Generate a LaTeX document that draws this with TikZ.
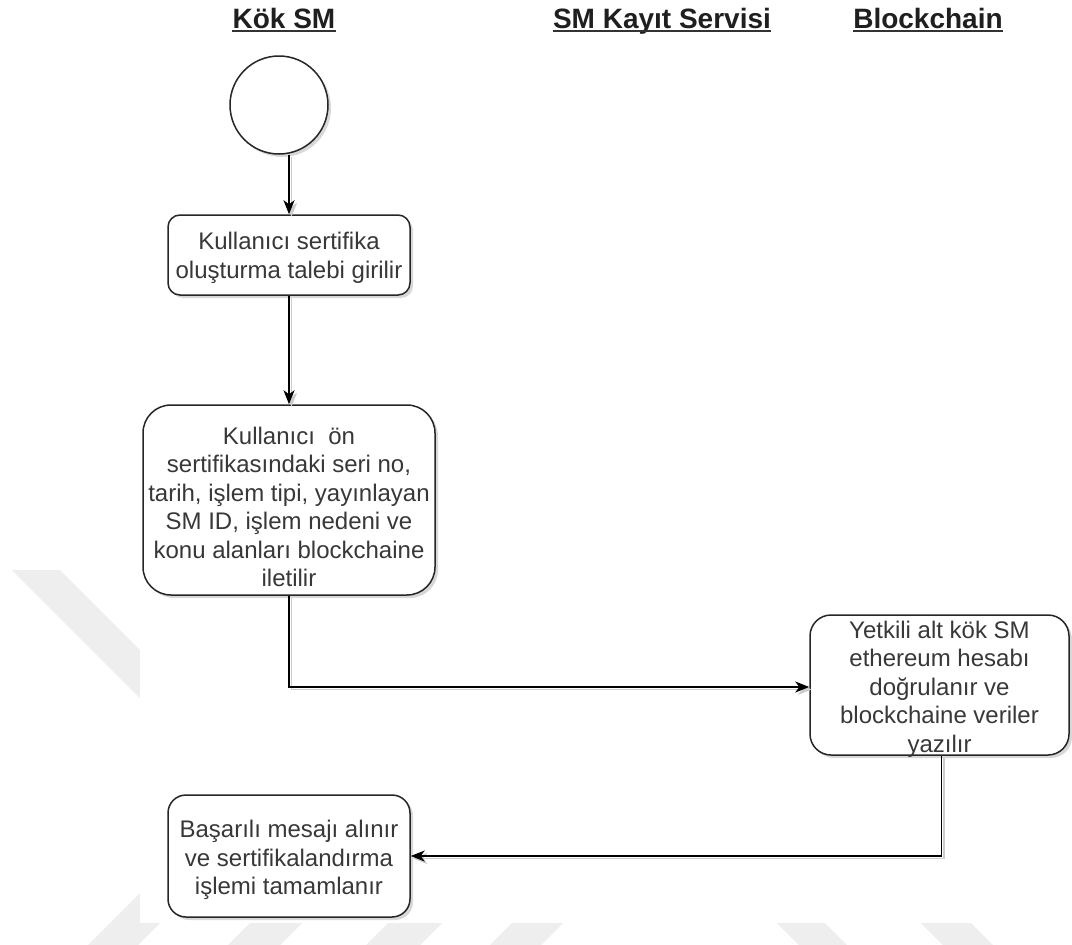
\documentclass[tikz,border=0pt]{standalone}
\usepackage{fontspec}
\setmainfont{Liberation Sans}
\usetikzlibrary{arrows.meta,shadows}
\definecolor{wm}{RGB}{238,238,238}
\newcommand{\boxfont}{\fontsize{24}{28.4}\selectfont}
\newcommand{\ttlfont}{\fontsize{28}{32}\selectfont\bfseries}
\tikzset{
  box/.style={draw=black!85, line width=1.5pt, fill=white, inner sep=0pt,
    drop shadow={shadow xshift=3pt, shadow yshift=-3pt, fill=black!30}},
  txt/.style={align=center, font=\boxfont, text=black!78, inner sep=0pt},
  ttl/.style={font=\ttlfont, text=black!88, inner sep=0pt, anchor=base},
  uline/.style={line width=2pt, draw=black!80},
  tip/.style={-{Stealth[length=14pt,width=11pt,inset=4pt]}},
  conn/.style={tip, line width=1.6pt, draw=black},
  connshadow/.style={tip, line width=1.6pt, draw=black!20,
    transform canvas={xshift=2.5pt, yshift=-2.5pt}},
  band/.style={fill=wm, draw=none}
}
\begin{document}
\begin{tikzpicture}[x=1pt,y=-1pt]
\useasboundingbox (0,0) rectangle (1072,945);
\fill[white] (0,0) rectangle (1072,945);
% faint background bands
\fill[band] (12,570) -- (60,570) -- (400,910) -- (352,910) -- cycle;
\fill[band] (88,945) -- (138,945) -- (240,843) -- (190,843) -- cycle;
\fill[band] (228,945) -- (280,945) -- (302,923) -- (250,923) -- cycle;
\fill[band] (366,945) -- (420,945) -- (442,923) -- (388,923) -- cycle;
\fill[band] (490,945) -- (541,945) -- (563,923) -- (512,923) -- cycle;
\fill[band] (777,923) -- (825,923) -- (847,945) -- (799,945) -- cycle;
\fill[band] (921,923) -- (971,923) -- (993,945) -- (943,945) -- cycle;
\fill[white] (140,0) rectangle (1072,923);

% titles
\node[ttl] (t1) at (284,28) {Kök SM};
\node[ttl] (t2) at (662,28) {SM Kayıt Servisi};
\node[ttl] (t3) at (928,28) {Blockchain};
\draw[uline] ([yshift=-3pt]t1.base west) -- ([yshift=-3pt]t1.base east);
\draw[uline] ([yshift=-3pt]t2.base west) -- ([yshift=-3pt]t2.base east);
\draw[uline] ([yshift=-3pt]t3.base west) -- ([yshift=-3pt]t3.base east);

% nodes
\node[box, circle, minimum size=98pt] (circ) at (279,105) {};
\node[box, rounded corners=12pt, minimum width=242pt, minimum height=80pt,
  label={[txt, name=b1t, yshift=-3pt]center:{Kullanıcı sertifika\\oluşturma talebi girilir}}] (b1) at (289,255) {};
\node[box, rounded corners=28pt, minimum width=292pt, minimum height=190pt,
  label={[txt, name=b2t, yshift=-7pt]center:{Kullanıcı~ ön\\sertifikasındaki seri no,\\tarih, işlem tipi, yayınlayan\\SM ID, işlem nedeni ve\\konu alanları blockchaine\\iletilir}}] (b2) at (289,500) {};
\node[box, rounded corners=21pt, minimum width=259pt, minimum height=140pt,
  label={[txt, name=b3t, yshift=-4pt]center:{Yetkili alt kök SM\\ethereum hesabı\\doğrulanır ve\\blockchaine veriler\\yazılır}}] (b3) at (939.5,685) {};
\node[box, rounded corners=18pt, minimum width=242pt, minimum height=122pt,
  label={[txt, name=b4t, yshift=-4pt]center:{Başarılı mesajı alınır\\ve sertifikalandırma\\işlemi tamamlanır}}] (b4) at (289,856) {};

% connector shadows
\draw[connshadow] (circ.south -| b1.north) -- (b1.north);
\draw[connshadow] (b1.south) -- (b2.north);
\draw[connshadow] (b2.south) |- ([yshift=-2pt]b3.west);
\draw[connshadow] ([xshift=2pt]b3.south) |- (b4.east);
% connectors
\draw[conn] (circ.south -| b1.north) -- (b1.north);
\draw[conn] (b1.south) -- (b2.north);
\draw[conn] (b2.south) |- ([yshift=-2pt]b3.west);
\draw[conn] ([xshift=2pt]b3.south) |- (b4.east);
\end{tikzpicture}
\end{document}
